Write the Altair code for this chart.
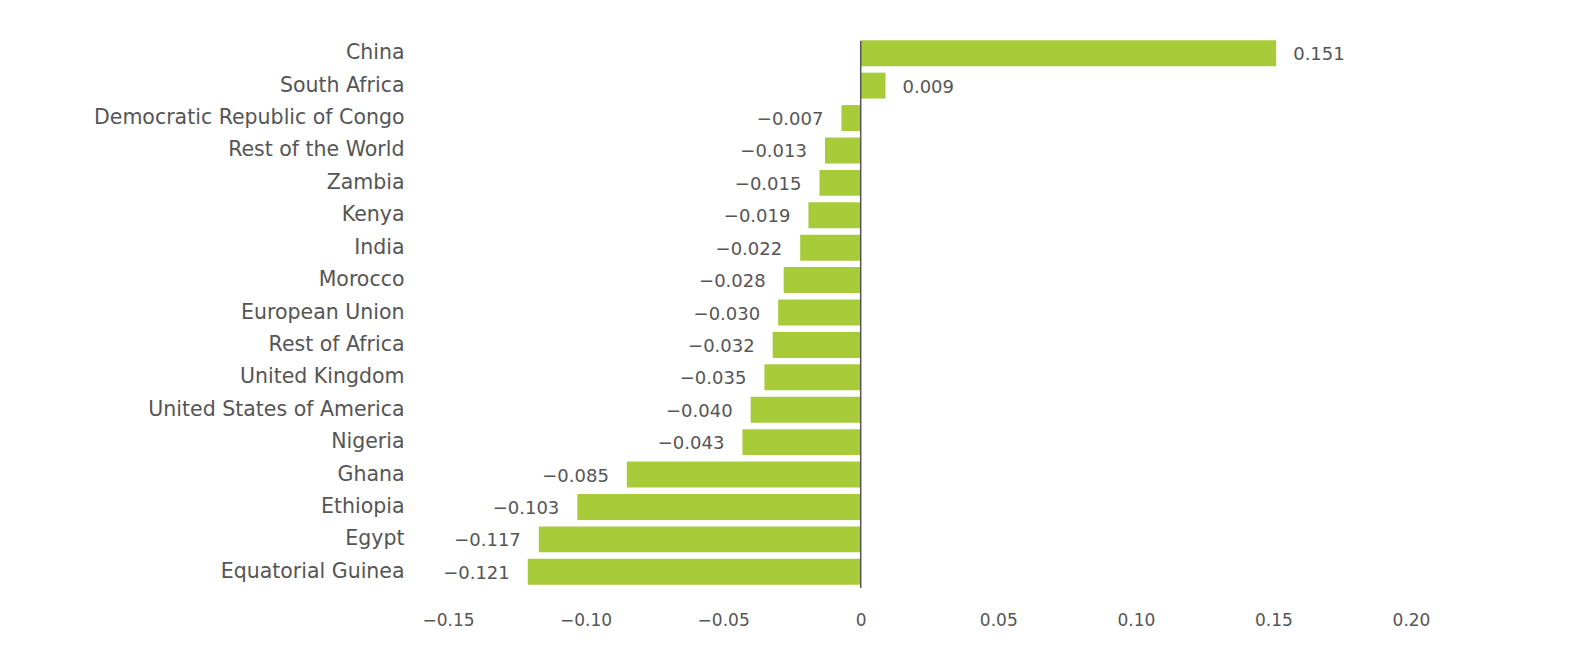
import altair as alt
import pandas as pd

countries = ["China", "South Africa", "Democratic Republic of Congo", "Rest of the World",
             "Zambia", "Kenya", "India", "Morocco", "European Union", "Rest of Africa",
             "United Kingdom", "United States of America", "Nigeria", "Ghana", "Ethiopia",
             "Egypt", "Equatorial Guinea"]
values = [0.151, 0.009, -0.007, -0.013, -0.015, -0.019, -0.022, -0.028, -0.030, -0.032,
          -0.035, -0.040, -0.043, -0.085, -0.103, -0.117, -0.121]
x_ticks = [-0.15, -0.10, -0.05, 0, 0.05, 0.10, 0.15, 0.20]

df = pd.DataFrame({"country": countries, "value": values})

FONT = "DejaVu Sans"
TXT = "#555555"
GREEN = "#A8CB3A"

xscale = alt.Scale(domain=[-0.15, 0.20], nice=False, zero=False)
yscale = alt.Scale(domain=countries, paddingInner=0.2, paddingOuter=0.1)

base = alt.Chart(df)

bars = base.mark_bar(color=GREEN).encode(
    x=alt.X("value:Q", scale=xscale,
            axis=alt.Axis(values=x_ticks, title=None, domain=False, ticks=False, grid=False,
                          labelExpr="datum.value == 0 ? '0' : format(datum.value, '.2f')",
                          labelFlush=False, labelOverlap=False,
                          labelFont=FONT, labelFontSize=17, labelColor=TXT, labelPadding=24)),
    y=alt.Y("country:N", scale=yscale, sort=countries,
            axis=alt.Axis(title=None, domain=False, ticks=False, grid=False,
                          labelFont=FONT, labelFontSize=20.5, labelColor=TXT,
                          labelPadding=44, labelLimit=600)),
)

pos_labels = base.transform_filter("datum.value >= 0").mark_text(
    align="left", dx=17, dy=2, font=FONT, fontSize=18, color=TXT
).encode(
    x=alt.X("value:Q", scale=xscale),
    y=alt.Y("country:N", scale=yscale, sort=countries),
    text=alt.Text("value:Q", format=".3f"),
)

neg_labels = base.transform_filter("datum.value < 0").mark_text(
    align="right", dx=-18, dy=2, font=FONT, fontSize=18, color=TXT
).encode(
    x=alt.X("value:Q", scale=xscale),
    y=alt.Y("country:N", scale=yscale, sort=countries),
    text=alt.Text("value:Q", format=".3f"),
)

zero = alt.Chart(pd.DataFrame({"z": [0]})).mark_rule(color="#555555", strokeWidth=1.5).encode(
    x=alt.X("z:Q", scale=xscale),
    y=alt.value(4), y2=alt.value(551),
)

chart = alt.layer(bars, zero, pos_labels, neg_labels).properties(
    width=963, height=551,
    background="white",
    autosize=alt.AutoSizeParams(type="none"),
    padding={"left": 448, "top": 37, "right": 180, "bottom": 64},
).configure_view(strokeWidth=0)

chart.save("out.html", embed_options={"renderer": "svg", "actions": False})
